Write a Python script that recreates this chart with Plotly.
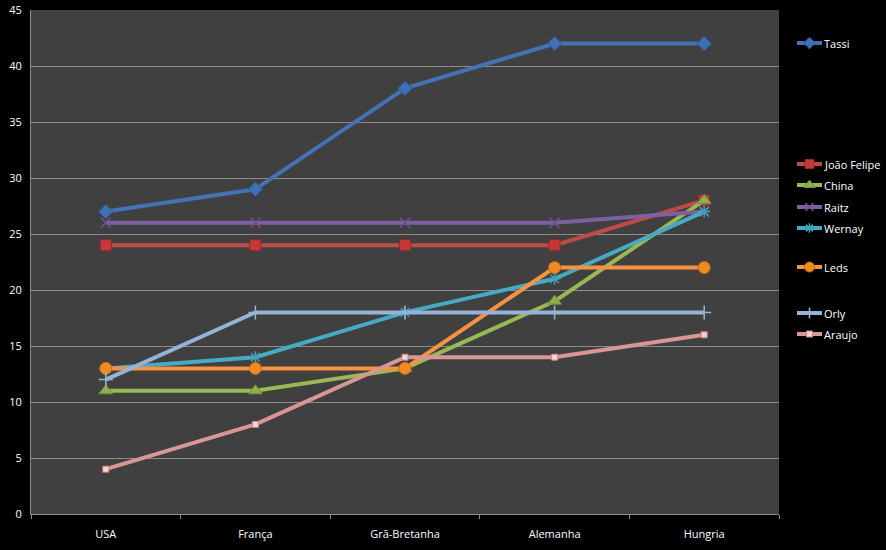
import plotly.graph_objects as go

categories = ["USA", "França", "Grã-Bretanha", "Alemanha", "Hungria"]
series_names = ["Tassi", "João Felipe", "China", "Raitz", "Wernay", "Leds", "Orly", "Araujo"]
tassi = [27, 29, 38, 42, 42]
joao_felipe = [24, 24, 24, 24, 28]
china = [11, 11, 13, 19, 28]
raitz = [26, 26, 26, 26, 27]
wernay = [13, 14, 18, 21, 27]
leds = [13, 13, 13, 22, 22]
orly = [12, 18, 18, 18, 18]
araujo = [4, 8, 14, 14, 16]
values = [tassi, joao_felipe, china, raitz, wernay, leds, orly, araujo]
y_ticks = list(range(0, 50, 5))

line_colors = ["#4472B4", "#BE4B48", "#98B954", "#7D60A0", "#46AAC5", "#F59243", "#95B3D7", "#D99694"]
markers = [
    dict(symbol="diamond", size=11, color="#3F6FB5", line=dict(color="#2E5A95", width=1)),
    dict(symbol="square", size=11, color="#C4383A", line=dict(color="#8E2A2A", width=1)),
    dict(symbol="triangle-up", size=12, color="#8DB04C", line=dict(color="#6E8E3A", width=1)),
    dict(symbol="x-thin", size=10, color="#6E5494", line=dict(color="#6E5494", width=1.5)),
    dict(symbol="asterisk", size=10, color="#3FA0B8", line=dict(color="#3FA0B8", width=1.5)),
    dict(symbol="circle", size=12, color="#F08A22", line=dict(color="#C66E18", width=1)),
    dict(symbol="cross-thin", size=10, color="#95B3D7", line=dict(color="#95B3D7", width=1.5)),
    dict(symbol="square", size=6, color="#F2D6D6", line=dict(color="#C98584", width=1)),
]
legend_y_px = [43, 164, 185, 207, 228, 267, 313, 334]

W, H = 886, 550
x0, x1 = 31, 779
y_top, y_bot = 10, 514

fig = go.Figure()
for name, vals, lc, mk in zip(series_names, values, line_colors, markers):
    fig.add_trace(go.Scatter(
        x=categories, y=vals, name=name, mode="lines+markers",
        line=dict(color=lc, width=4), marker=mk, showlegend=False,
        xaxis="x", yaxis="y",
    ))

# Custom legend drawn on a separate pixel axis spanning the whole page
for name, lc, mk, ly in zip(series_names, line_colors, markers, legend_y_px):
    fig.add_trace(go.Scatter(
        x=[797, 822], y=[ly, ly], mode="lines", line=dict(color=lc, width=4),
        xaxis="x2", yaxis="y2", showlegend=False, hoverinfo="skip",
    ))
    mk2 = dict(mk)
    mk2["size"] = max(6, mk["size"] - 2)
    fig.add_trace(go.Scatter(
        x=[809.5], y=[ly], mode="markers", marker=mk2,
        xaxis="x2", yaxis="y2", showlegend=False, hoverinfo="skip",
    ))
    fig.add_annotation(x=822, y=ly, xref="x2", yref="y2", text=name, showarrow=False,
                       xanchor="left", yanchor="middle",
                       font=dict(color="white", size=11, family="Open Sans"))

# plot-area background (the page-wide legend axis must stay transparent)
fig.add_shape(type="rect", xref="x domain", yref="y domain", x0=0, x1=1, y0=0, y1=1,
              fillcolor="#404040", line=dict(width=0), layer="below")

fig.update_layout(
    width=W, height=H, autosize=False,
    margin=dict(l=0, r=0, t=0, b=0),
    paper_bgcolor="black", plot_bgcolor="rgba(0,0,0,0)",
    font=dict(color="white", family="Open Sans", size=11),
    xaxis=dict(
        domain=[x0 / W, x1 / W], type="category", range=[-0.5, 4.5],
        showgrid=False, showline=True, linecolor="#8C8C8C", linewidth=1,
        ticks="outside", tickson="boundaries", ticklen=4, tickcolor="#8C8C8C",
        tickfont=dict(color="white", size=11), zeroline=False, automargin=False,
        anchor="y", ticklabelstandoff=10,
    ),
    yaxis=dict(
        domain=[(H - y_bot) / H, (H - y_top) / H], range=[0, 45],
        tickvals=y_ticks, showgrid=True, gridcolor="#8C8C8C", gridwidth=1,
        showline=True, linecolor="#8C8C8C", linewidth=1, zeroline=False,
        ticks="", tickfont=dict(color="white", size=11), ticklabelstandoff=6,
        automargin=False, anchor="x",
    ),
    xaxis2=dict(domain=[0, 1], range=[0, W], visible=False, anchor="y2", automargin=False),
    yaxis2=dict(domain=[0, 1], range=[H, 0], visible=False, anchor="x2", automargin=False),
)

fig.write_html("out.html")
